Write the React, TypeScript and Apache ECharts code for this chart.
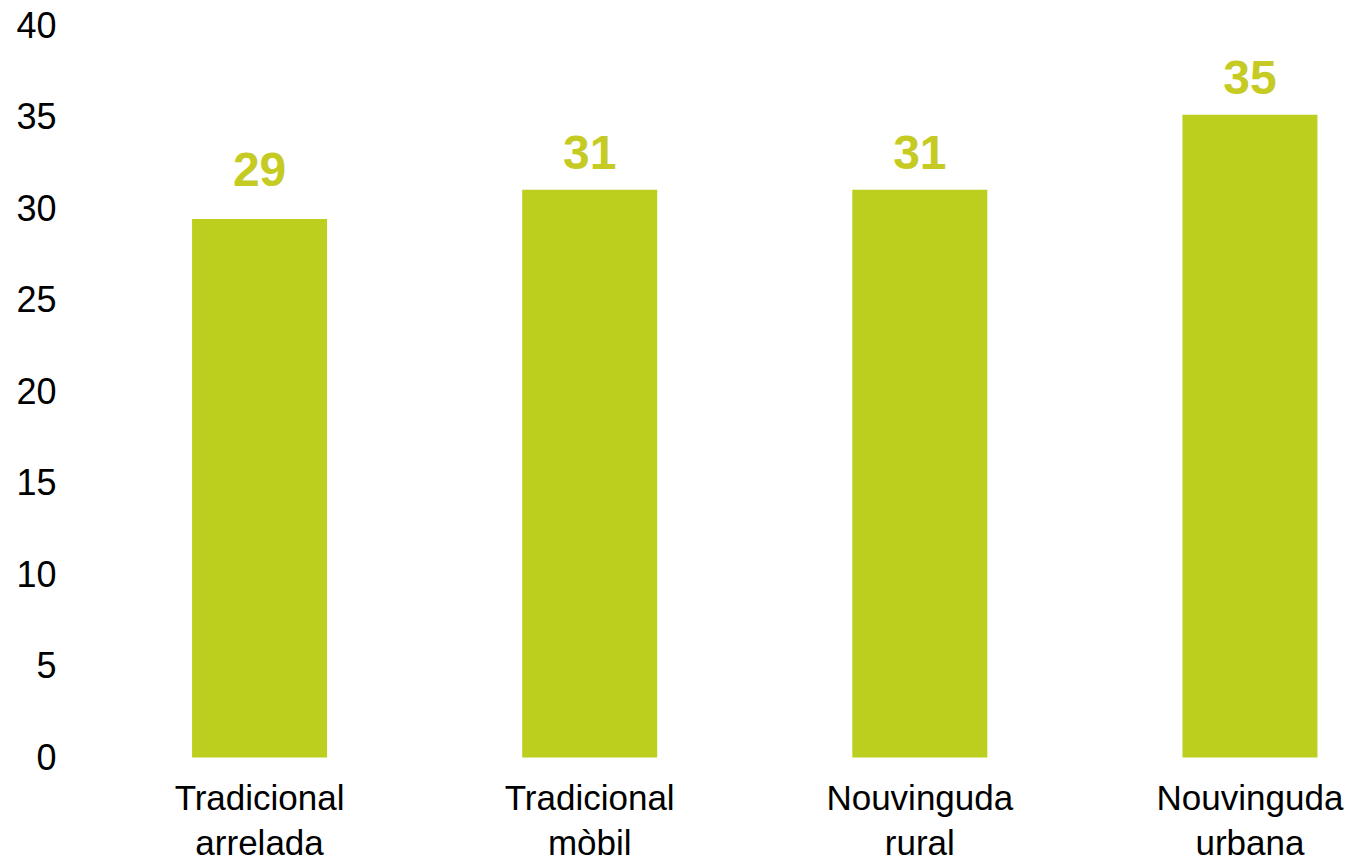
import React, { useEffect, useRef } from "react";
import * as echarts from "echarts";

const categories = ["Tradicional\narrelada", "Tradicional\nmòbil", "Nouvinguda\nrural", "Nouvinguda\nurbana"];
const values = [29.4, 31.0, 31.0, 35.1];
const yTicks = { min: 0, max: 40, interval: 5 };

const FONT = "'Liberation Sans', Arial, Helvetica, sans-serif";

export default function App() {
  const ref = useRef<HTMLDivElement>(null);
  useEffect(() => {
    if (!ref.current) return;
    const chart = echarts.init(ref.current, undefined, { renderer: "svg" });
    const labelDistance = (i: number) => (i === 0 ? 26 : 13);
    chart.setOption({
      animation: false,
      backgroundColor: "#ffffff",
      grid: {
        left: 94.5,
        right: 0,
        top: 25,
        bottom: 104.5,
        containLabel: false,
        outerBoundsMode: "none",
      },
      xAxis: {
        type: "category",
        data: categories,
        axisLine: { show: false },
        axisTick: { show: false },
        axisLabel: {
          color: "#000000",
          fontFamily: FONT,
          fontSize: 35,
          lineHeight: 45,
          margin: 17.5,
          interval: 0,
        },
      },
      yAxis: {
        type: "value",
        min: yTicks.min,
        max: yTicks.max,
        interval: yTicks.interval,
        splitLine: { show: false },
        axisLine: { show: false },
        axisTick: { show: false },
        axisLabel: {
          color: "#000000",
          fontFamily: FONT,
          fontSize: 36,
          margin: 38,
        },
      },
      series: [
        {
          type: "bar",
          data: values.map((v, i) => ({ value: v, label: { distance: labelDistance(i) } })),
          barWidth: 135,
          itemStyle: { color: "#BCCF1E" },
          label: {
            show: true,
            position: "top",
            distance: 13,
            color: "#C5CB22",
            fontFamily: FONT,
            fontWeight: "bold",
            fontSize: 48,
            formatter: (p: any) => String(Math.round(p.value)),
          },
        },
      ],
    });
    return () => chart.dispose();
  }, []);
  return (
    <div
      ref={ref}
      style={{ position: "fixed", left: 0, top: 0, width: 1414.5, height: 862, background: "#fff" }}
    />
  );
}
